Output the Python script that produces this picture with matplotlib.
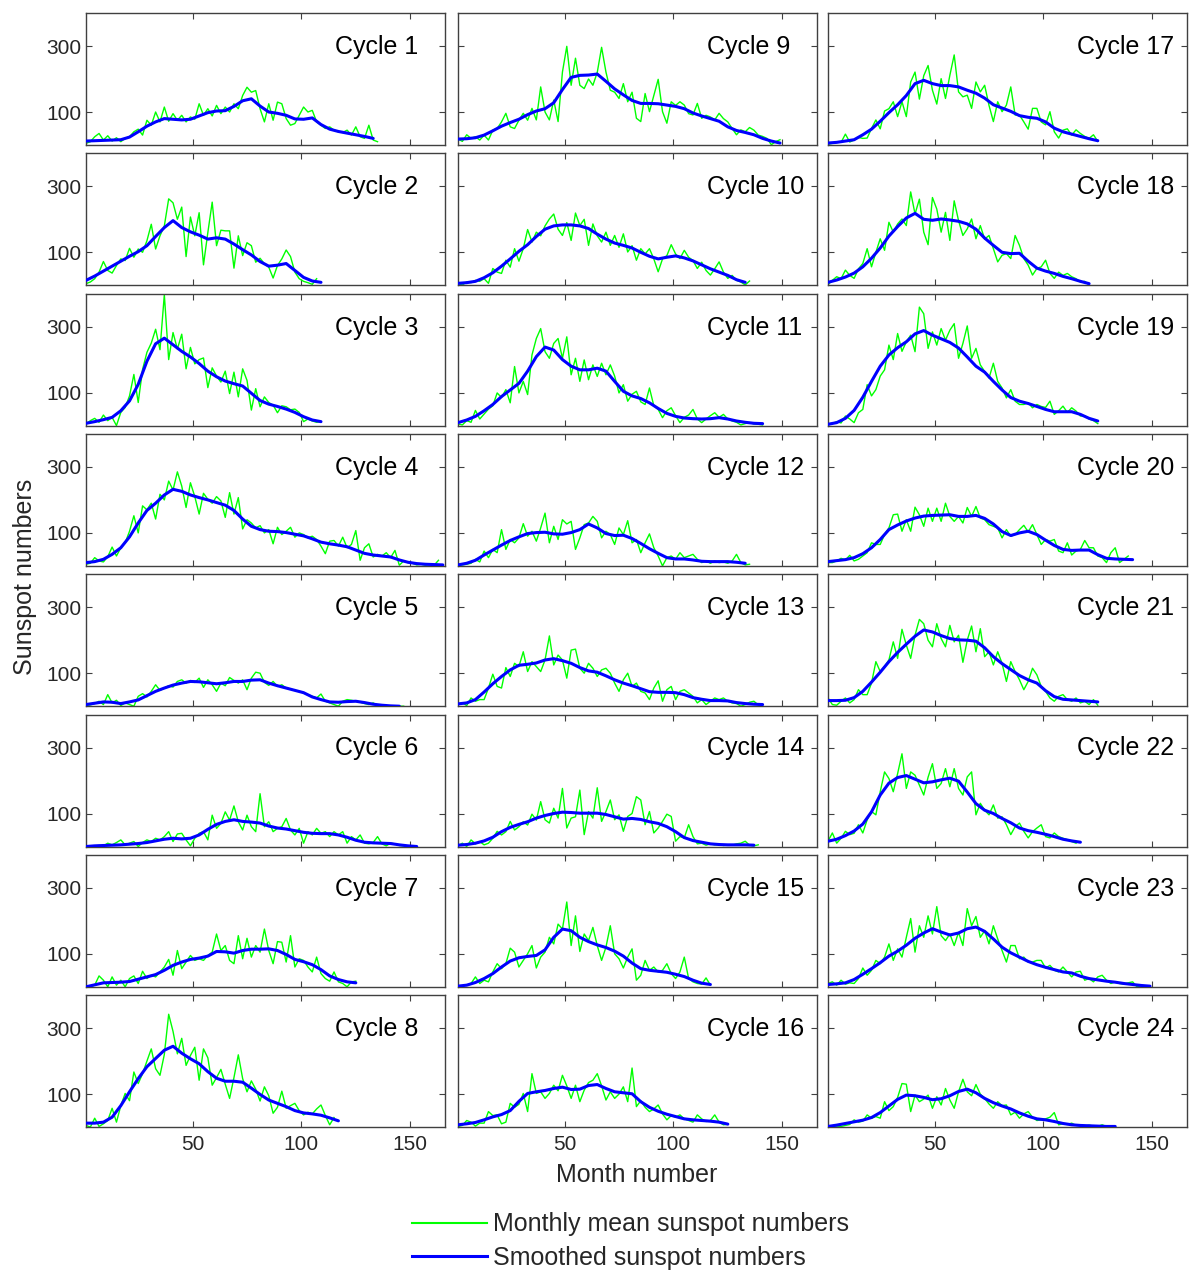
import numpy as np
import matplotlib
matplotlib.use("Agg")
import matplotlib.pyplot as plt
from matplotlib.lines import Line2D
from matplotlib.transforms import blended_transform_factory

plt.rcParams['font.family'] = ['Liberation Sans', 'DejaVu Sans']

# ---------------- data ----------------
# smoothed values: one value every 4 months starting at month 1
# monthly mean values: one value every 2 months starting at month 1
cycle_names = [f"Cycle {i}" for i in range(1, 25)]

smooth_01 = [12,13,14,15,16,24,40,57,70,80,78,76,78,88,98,103,104,117,134,140,118,100,96,90,79,78,82,62,48,41,36,31,26,20]
monthly_01 = [5,10,25,35,15,28,12,22,10,20,25,40,48,30,75,60,100,70,115,72,95,75,90,70,85,78,125,90,110,88,120,95,115,100,125,110,150,175,160,165,110,70,125,75,130,125,80,60,65,90,115,100,105,70,60,50,55,45,40,38,45,30,55,25,20,60,15,10]

smooth_02 = [15,28,43,58,73,88,102,120,148,175,196,175,162,152,140,144,140,125,108,92,72,58,61,66,45,24,13,9]
monthly_02 = [5,10,20,40,72,45,37,60,80,75,112,85,110,100,135,185,110,150,180,262,250,200,237,87,207,150,220,62,160,252,120,167,165,165,52,150,90,129,120,70,82,65,55,22,60,80,107,87,40,20,12,8,3,20]

smooth_03 = [7,12,18,25,45,75,125,195,248,265,245,225,208,188,165,148,135,127,120,98,76,65,58,50,40,27,17,12]
monthly_03 = [5,15,22,10,32,15,25,0,40,55,90,155,70,170,222,250,292,230,397,200,282,232,277,172,237,187,200,205,115,175,150,132,165,97,162,87,172,137,47,112,57,87,70,62,39,60,57,48,50,40,12,20,14,10,12]

smooth_04 = [10,13,20,35,55,88,130,168,190,215,232,226,215,207,200,192,184,168,142,120,110,105,104,101,96,91,82,72,67,63,58,48,38,33,30,27,18,11,7,5,4,3]
monthly_04 = [5,8,25,15,12,28,57,30,55,70,105,152,100,182,170,190,142,217,200,257,230,285,242,177,252,210,157,220,202,190,210,197,147,222,157,207,112,140,130,115,122,100,110,67,117,95,105,117,87,100,95,85,90,80,60,37,75,77,60,87,55,65,107,17,55,67,27,35,30,40,25,47,2,15,10,8,3,5,2,4,2,17]

smooth_05 = [5,9,13,12,8,13,19,32,45,55,64,70,75,74,71,68,71,75,75,79,80,70,62,55,48,41,28,20,13,12,14,15,11,6,3,1,0]
monthly_05 = [2,4,8,15,5,35,10,18,2,10,5,0,30,38,28,45,65,48,55,62,58,75,80,70,78,72,85,57,80,65,45,70,62,87,78,70,80,50,85,103,100,72,63,75,60,65,55,52,48,45,40,35,30,25,37,15,10,5,0,15,20,18,15,12,8,5,10,3,2,1,0,0,0,0]

smooth_06 = [0,2,3,4,5,7,9,12,17,22,25,23,25,35,52,67,76,81,76,74,71,62,56,53,48,43,40,39,39,35,28,19,13,11,10,9,5,2,0]
monthly_06 = [0,1,2,3,2,10,5,12,20,5,10,15,0,12,20,15,25,20,30,45,15,38,40,20,2,25,40,45,20,95,55,70,105,80,123,75,50,95,60,45,160,60,75,45,55,60,85,50,35,55,10,45,35,55,40,45,30,45,35,45,10,30,20,35,10,8,12,30,8,2,10,8,3,2,1,0]

smooth_07 = [0,6,12,13,14,16,23,30,37,50,65,75,83,87,93,107,106,102,110,114,114,115,110,98,83,76,67,52,33,22,15,12]
monthly_07 = [2,0,5,33,20,0,30,5,20,0,25,33,10,47,25,35,30,45,60,83,35,110,55,75,95,80,85,80,95,105,160,110,125,80,70,155,85,147,90,125,105,175,110,70,137,135,75,155,60,85,80,60,45,90,40,25,17,45,15,10,0,15,17]

smooth_08 = [12,12,15,30,65,107,147,183,208,233,245,224,207,192,168,148,139,139,136,118,99,82,72,62,50,43,40,36,28,19]
monthly_08 = [5,0,27,2,10,20,57,15,65,102,80,167,132,162,200,237,177,157,220,342,290,222,269,187,217,242,142,237,210,127,150,175,130,87,150,219,147,107,140,115,79,122,95,42,60,109,57,65,72,50,37,45,40,55,67,35,7,29]

smooth_09 = [18,19,22,30,43,57,68,78,92,103,110,128,168,205,211,212,215,193,170,152,135,126,126,125,121,117,110,97,88,80,72,55,44,38,31,20,12,6]
monthly_09 = [18,11,31,20,25,15,30,15,45,50,70,96,55,50,75,96,75,111,76,176,100,76,136,71,221,299,181,263,181,171,200,181,220,296,221,166,160,141,186,131,160,81,71,156,101,150,199,101,66,131,120,131,121,95,91,126,81,90,85,76,96,80,70,50,31,46,40,53,45,30,26,20,1,10,16]

smooth_10 = [6,8,12,23,38,58,80,103,123,148,170,180,183,183,180,172,155,140,128,121,113,100,88,80,85,89,83,74,62,50,40,30,17,9]
monthly_10 = [5,1,10,8,15,12,20,6,51,40,36,76,55,111,73,111,169,131,161,150,180,201,216,170,151,190,136,219,181,200,121,186,150,131,161,121,151,115,156,101,120,76,111,95,111,80,41,80,90,123,95,81,106,85,75,51,70,45,31,50,71,40,21,30,15,10,1,13]

smooth_11 = [9,17,28,45,64,88,108,128,165,209,238,229,200,180,169,169,174,165,134,104,90,82,69,52,37,28,23,21,20,21,24,20,14,10,7,6]
monthly_11 = [5,2,15,10,46,20,35,50,60,99,85,109,69,179,99,134,94,214,264,294,224,204,249,264,204,269,154,204,134,199,139,184,149,189,154,184,150,99,124,74,95,104,72,64,114,60,49,24,45,54,30,9,25,32,49,20,9,20,30,39,25,34,20,14,10,2,6,9,5,4,2]

smooth_12 = [3,8,17,33,48,63,77,88,98,101,102,97,96,101,110,127,115,98,92,93,83,68,52,38,25,21,21,18,14,13,13,13,11,8]
monthly_12 = [2,3,5,8,20,12,45,25,50,40,110,50,80,70,85,128,90,105,75,115,160,70,120,80,140,127,135,50,85,125,130,150,135,85,105,95,65,115,95,137,70,80,40,70,97,55,30,0,25,30,20,40,25,30,35,20,10,15,8,15,10,12,8,15,35,10,3,5]

smooth_13 = [7,10,20,43,68,90,110,124,127,131,140,144,138,130,117,107,103,92,80,70,62,53,44,42,42,41,35,26,21,17,17,16,11,8,6,5]
monthly_13 = [5,10,2,25,15,20,20,55,97,60,55,117,90,130,120,165,105,135,120,105,140,213,125,155,140,85,170,173,115,100,130,115,90,110,115,100,70,45,80,100,60,70,45,40,20,55,77,15,50,60,20,45,50,40,30,10,20,5,15,25,20,25,15,10,8,0,5,12,15,4,3]

smooth_14 = [4,6,10,17,28,45,58,67,75,86,94,100,104,103,101,101,101,97,90,83,85,82,75,70,60,45,27,18,13,8,6,5,5,5,4]
monthly_14 = [2,10,0,20,8,15,5,10,25,46,35,45,76,50,60,75,65,98,80,136,81,71,116,86,176,56,86,90,171,36,106,86,178,76,106,141,81,96,46,91,100,151,141,66,106,41,56,76,98,91,16,30,26,66,30,8,10,4,8,5,6,3,5,4,8,10,16,4,2,5]

smooth_15 = [2,5,13,25,40,60,78,88,92,95,112,150,175,170,150,137,127,119,108,93,72,55,50,47,44,38,31,20,11,7]
monthly_15 = [0,3,5,10,30,10,20,15,45,70,55,70,117,105,60,80,100,125,57,90,105,150,130,190,175,257,125,215,107,160,140,180,125,80,120,185,100,85,57,90,115,20,35,80,50,60,45,50,70,40,25,45,90,25,15,10,8,27,5]

smooth_16 = [7,10,14,22,31,38,50,78,102,107,111,117,121,114,115,126,129,117,107,104,101,77,60,48,39,32,25,22,20,18,15,9]
monthly_16 = [2,5,20,15,3,12,12,47,35,37,10,15,72,60,69,102,47,162,102,107,87,102,127,110,157,125,87,127,77,112,135,142,162,125,82,107,87,100,122,77,179,62,80,60,47,55,67,40,22,35,30,37,25,20,15,37,25,17,20,37,15,7,9]

smooth_17 = [6,8,12,16,31,48,72,98,122,150,186,196,186,180,180,176,166,157,142,122,112,102,89,84,81,70,51,40,33,26,19,13]
monthly_17 = [2,5,10,8,33,9,15,23,20,21,50,76,49,103,110,131,86,131,86,191,221,139,210,241,166,124,201,141,211,273,161,146,151,111,191,161,181,120,71,131,101,121,176,91,91,70,48,111,111,70,61,101,40,21,45,49,30,46,35,26,20,31,11]

smooth_18 = [9,16,25,37,56,82,113,149,178,204,218,200,197,201,198,194,186,170,143,121,100,96,97,73,52,43,36,27,20,12,5]
monthly_18 = [2,15,26,20,46,30,21,50,66,111,56,100,141,106,191,161,186,201,181,283,216,261,161,123,266,231,161,221,136,256,196,151,171,201,141,181,140,151,111,71,91,96,81,151,121,81,61,31,51,56,76,36,21,40,30,36,26,20,10,12,1]

smooth_19 = [4,9,22,46,86,134,180,214,236,254,278,288,274,263,252,235,208,180,162,134,108,85,74,67,58,49,42,42,42,34,22,14]
monthly_19 = [2,6,12,8,29,20,9,39,49,124,90,109,150,169,244,200,279,225,254,274,224,359,339,234,284,244,294,259,289,309,204,249,302,204,234,184,164,144,189,134,114,84,109,74,64,64,69,54,64,58,55,74,34,45,59,40,54,44,29,30,20,15,6]

smooth_20 = [13,16,19,25,37,55,80,110,124,136,145,151,153,154,155,150,150,153,144,127,104,92,100,105,95,78,62,50,47,48,48,34,23,21,20,19]
monthly_20 = [10,10,15,23,18,32,15,20,30,40,70,65,65,95,115,155,157,105,140,105,178,155,120,175,135,175,135,190,150,135,150,130,177,150,180,145,140,125,120,115,85,110,90,95,110,123,103,125,95,65,80,75,80,45,40,70,33,45,50,77,55,55,30,25,10,40,55,10,20,30]

smooth_21 = [17,17,18,26,45,73,103,135,163,188,212,231,225,214,205,201,200,197,177,150,129,111,93,80,70,47,29,21,19,17,15,13]
monthly_21 = [25,5,3,15,25,10,20,50,35,35,70,135,105,120,140,195,145,233,185,145,215,263,250,200,180,250,205,180,245,195,215,133,200,243,165,235,150,165,125,165,130,75,135,105,80,50,75,115,95,60,45,25,15,30,35,20,15,25,10,15,5,20,3]

smooth_22 = [16,22,33,47,68,105,156,192,209,215,204,193,196,202,207,198,165,130,110,100,85,72,56,48,43,37,30,22,17,13]
monthly_22 = [16,41,10,25,46,36,40,66,41,81,106,96,166,226,206,166,221,281,176,226,216,186,156,210,251,176,191,236,181,236,176,156,211,226,96,131,110,96,126,86,90,66,36,60,71,46,26,45,56,66,30,26,41,30,25,21,15,10]

smooth_23 = [7,9,12,22,38,55,73,93,108,126,147,163,176,166,157,163,176,181,168,145,120,103,90,77,67,59,52,45,42,32,25,21,17,14,10,7,4,2]
monthly_23 = [10,15,5,20,8,12,10,25,57,35,50,80,70,90,130,80,115,90,150,207,105,185,150,215,160,243,155,140,160,125,165,125,237,185,213,150,170,130,185,145,110,75,125,125,85,90,75,75,80,80,57,65,50,45,60,45,30,45,47,20,25,15,30,35,20,10,15,10,8,12,15,0,3,2,1]

smooth_24 = [2,6,11,16,21,29,44,64,84,97,95,90,83,86,95,108,115,104,87,74,64,55,43,33,25,22,17,11,7,5,4,3,2,2]
monthly_24 = [1,2,3,2,5,8,22,15,18,37,27,32,27,77,50,62,90,132,130,47,97,77,85,97,57,92,67,117,82,57,107,145,107,95,129,100,87,70,57,77,65,67,37,45,27,40,47,30,20,22,25,30,44,7,10,8,12,5,4,3,6,3,2,7,2,1]

smoothed_all = [smooth_01, smooth_02, smooth_03, smooth_04, smooth_05, smooth_06, smooth_07, smooth_08,
                smooth_09, smooth_10, smooth_11, smooth_12, smooth_13, smooth_14, smooth_15, smooth_16,
                smooth_17, smooth_18, smooth_19, smooth_20, smooth_21, smooth_22, smooth_23, smooth_24]
monthly_all = [monthly_01, monthly_02, monthly_03, monthly_04, monthly_05, monthly_06, monthly_07, monthly_08,
               monthly_09, monthly_10, monthly_11, monthly_12, monthly_13, monthly_14, monthly_15, monthly_16,
               monthly_17, monthly_18, monthly_19, monthly_20, monthly_21, monthly_22, monthly_23, monthly_24]

x_ticks = [50, 100, 150]
y_ticks = [100, 300]
legend_labels = ["Monthly mean sunspot numbers", "Smoothed sunspot numbers"]

# ---------------- figure ----------------
W, H = 1200, 1282
fig = plt.figure(figsize=(W / 100, H / 100), dpi=100)

GREEN = '#00ff00'
BLUE = '#0000ff'
EDGE = '#404040'
TXT = '#262626'

col_left = [86, 458, 828]
ax_w = 359
row_top0, row_pitch, ax_h = 13, 140.3, 132

for i in range(24):
    col = i // 8
    row = i % 8
    left = col_left[col] / W
    bottom = 1 - (row_top0 + row * row_pitch + ax_h) / H
    ax = fig.add_axes([left, bottom, ax_w / W, ax_h / H])

    g = monthly_all[i]
    s = smoothed_all[i]
    gx = 1 + 2 * np.arange(len(g))
    sx = 1 + 4 * np.arange(len(s))
    ax.plot(gx, g, color=GREEN, lw=1.0, zorder=2)
    ax.plot(sx, s, color=BLUE, lw=2.2, zorder=3, solid_joinstyle='round', solid_capstyle='round')

    ax.set_xlim(1, 166)
    ax.set_ylim(0, 400)
    ax.set_xticks(x_ticks)
    ax.set_yticks(y_ticks)
    ax.tick_params(direction='in', length=4, width=0.8, top=True, right=True,
                   colors=EDGE, labelcolor=TXT, labelsize=15)
    if row != 7:
        ax.set_xticklabels([])
    else:
        ax.tick_params(axis='x', pad=6)
    if col != 0:
        ax.set_yticklabels([])
    for sp in ax.spines.values():
        sp.set_color(EDGE)
        sp.set_linewidth(1.0)

    tr = blended_transform_factory(ax.transAxes, ax.transData)
    ax.text(0.693, 276, cycle_names[i], transform=tr, ha='left', va='baseline',
            fontsize=18, color='black')

fig.text(25 / W, 1 - 577 / H, "Sunspot numbers", rotation=90, ha='center', va='center',
         fontsize=18, color=TXT)
fig.text(637 / W, 1 - 1175 / H, "Month number", ha='center', va='center',
         fontsize=18, color=TXT)

handles = [Line2D([], [], color=GREEN, lw=1.5), Line2D([], [], color=BLUE, lw=2.2)]
fig.legend(handles, legend_labels, loc='center', bbox_to_anchor=(0.5254, 1 - 1241 / H),
           frameon=False, fontsize=18, handlelength=3.0, handletextpad=0.25,
           labelspacing=0.38, labelcolor=TXT)

fig.savefig("out.png", dpi=100)
